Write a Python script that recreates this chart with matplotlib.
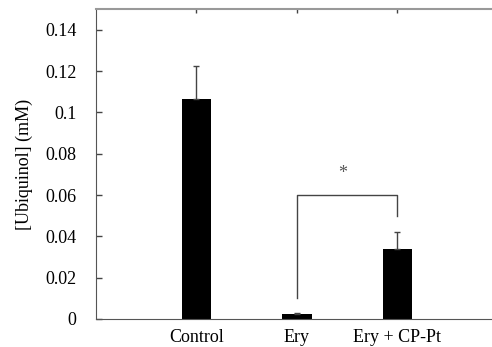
import numpy as np
import matplotlib.pyplot as plt

plt.rcParams['font.family'] = ['Liberation Serif', 'DejaVu Serif']

groups = ["Control", "Ery", "Ery + CP-Pt"]
means = [0.1064, 0.0023, 0.0338]
errors = [0.0161, 0.0008, 0.0081]

# bracket for the significance mark
bracket_left, bracket_right = 2, 3
bracket_top = 0.0602
bracket_left_bottom = 0.010
bracket_right_bottom = 0.0499
star_y = 0.0706

fig = plt.figure(figsize=(4.92, 3.47), dpi=100)
ax = fig.add_axes([0.195, 0.0807, 402 / 492, 0.893])

x = np.arange(1, len(groups) + 1)
ax.bar(x, means, width=0.29, color="black", zorder=2)
ax.errorbar(x, means, yerr=[np.zeros(len(errors)), errors], fmt="none",
            ecolor="#444444", elinewidth=1, capsize=2, capthick=1, zorder=3)

ax.plot([bracket_left, bracket_left, bracket_right, bracket_right],
        [bracket_left_bottom, bracket_top, bracket_top, bracket_right_bottom],
        color="#444444", lw=1)
ax.text((bracket_left + bracket_right) / 2 - 0.05, star_y, "*", ha="center",
        va="center", fontsize=13, color="#555555")

ax.set_xlim(0, 4)
ax.set_ylim(0, 0.15)
ax.set_yticks(np.arange(0, 0.141, 0.02))
ax.set_yticklabels(["0", "0.02", "0.04", "0.06", "0.08", "0.1", "0.12", "0.14"])
ax.set_xticks(x)
ax.set_xticklabels(groups)
ax.tick_params(axis="y", direction="in", length=4, width=1, color="#444444",
               pad=14, labelsize=13)
ax.tick_params(axis="x", direction="in", length=3, width=1, color="#444444",
               pad=7, labelsize=13, top=True, bottom=False)
ax.set_ylabel("[Ubiquinol] (mM)", fontsize=13, labelpad=9)

ax.spines["right"].set_visible(False)
ax.spines["top"].set_color("#999999")
ax.spines["top"].set_linewidth(1.5)
ax.spines["left"].set_color("#555555")
ax.spines["bottom"].set_color("#555555")

fig.savefig("out.png", dpi=100)
